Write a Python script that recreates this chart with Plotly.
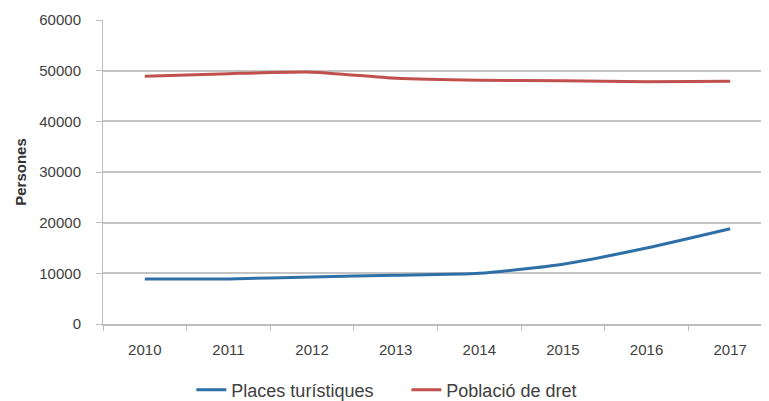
import plotly.graph_objects as go

years = ["2010", "2011", "2012", "2013", "2014", "2015", "2016", "2017"]
places_turistiques = [8900, 8900, 9300, 9600, 10000, 11800, 15000, 18800]
poblacio_dret = [48900, 49400, 49700, 48500, 48100, 48000, 47800, 47900]
y_ticks = [0, 10000, 20000, 30000, 40000, 50000, 60000]

fig = go.Figure()
fig.add_trace(go.Scatter(x=years, y=places_turistiques, mode="lines", name="Places turístiques",
                         line=dict(color="#2e6fa8", width=3, shape="spline", smoothing=0.6)))
fig.add_trace(go.Scatter(x=years, y=poblacio_dret, mode="lines", name="Població de dret",
                         line=dict(color="#c0504d", width=3, shape="spline", smoothing=0.6)))

font = dict(family="Liberation Sans, Arial, sans-serif", size=15, color="#404040")
fig.update_layout(
    width=769, height=401,
    margin=dict(l=95, r=5, t=12, b=85),
    paper_bgcolor="white", plot_bgcolor="white",
    font=font,
    showlegend=True,
    legend=dict(orientation="h", xref="container", x=0.518, xanchor="center",
                yref="container", y=0.047, yanchor="middle",
                entrywidth=170, entrywidthmode="pixels",
                font=dict(size=18, color="#404040")),
    xaxis=dict(type="category", showgrid=False, showline=True, linecolor="#bdbdbd", linewidth=2,
               ticks="outside", ticklen=5, tickcolor="#bdbdbd", tickson="boundaries",
               tickfont=dict(size=15), range=[-0.5, 7.5], automargin=False,
               ticklabelstandoff=11),
    yaxis=dict(range=[0, 60000], tickvals=y_ticks, ticktext=[str(v) for v in y_ticks],
               showgrid=True, gridcolor="#c4c4c4", gridwidth=2, showline=True, linecolor="#bdbdbd",
               linewidth=1, ticks="outside", ticklen=6, tickcolor="#bdbdbd", zeroline=False,
               automargin=False, ticklabelstandoff=12,
               title=dict(text="<b>Persones</b>", font=dict(size=15, color="#333333"), standoff=9),
               tickfont=dict(size=15)),
)
fig.write_html("out.html")
